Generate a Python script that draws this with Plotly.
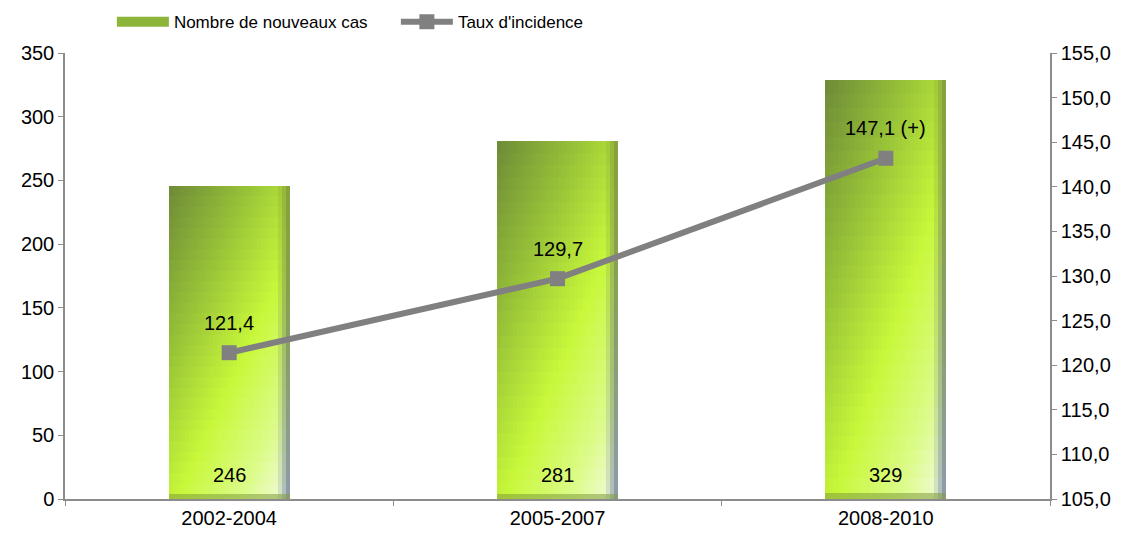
import plotly.graph_objects as go

# ---- data ----
categories = ["2002-2004", "2005-2007", "2008-2010"]
nouveaux_cas = [246, 281, 329]
# point positions as drawn on the right axis (the 3rd point sits near 143.2 although labelled 147,1 (+))
taux_incidence = [121.4, 129.7, 143.2]
taux_labels = ["121,4", "129,7", "147,1 (+)"]
cas_labels = ["246", "281", "329"]

# ---- styling ----
BAR_W = 0.368
NX, NY = 30, 30
FONT = "Liberation Sans, Arial, sans-serif"


def hex2rgb(h):
    h = h.lstrip("#")
    return [int(h[i:i + 2], 16) for i in (0, 2, 4)]


def mix(a, b, t):
    return [a[k] + (b[k] - a[k]) * t for k in range(3)]


STOPS = [(0.0, hex2rgb("#6d8a38")), (0.30, hex2rgb("#98c238")),
         (0.58, hex2rgb("#c8f83a")), (0.82, hex2rgb("#dcfb8a")),
         (1.0, hex2rgb("#f4fbe4"))]


def grad(t):
    t = max(0.0, min(1.0, t))
    for (t0, c0), (t1, c1) in zip(STOPS[:-1], STOPS[1:]):
        if t <= t1:
            return mix(c0, c1, (t - t0) / (t1 - t0))
    return STOPS[-1][1]


def cell_color(u, v):
    # u: 0 left -> 1 right ; v: 0 bottom -> 1 top
    t = (u * 0.9 + (1 - v) * 1.1) / 2.0
    c = grad(t)
    if u > 0.88:  # right rim
        rim = mix(hex2rgb("#86a23a"), hex2rgb("#8c9cae"), (1 - v) ** 1.5)
        c = mix(c, rim, min(1.0, ((u - 0.88) / 0.1) ** 1.3))
    if v < 0.015:  # bottom shadow
        c = mix(c, hex2rgb("#7f9c3a"), 0.55)
    return "rgb(%d,%d,%d)" % tuple(int(round(x)) for x in c)


fig = go.Figure()

# legend carrier for the bars (wide swatch)
fig.add_trace(go.Scatter(x=[None], y=[None], mode="lines", name="Nombre de nouveaux cas",
                         line=dict(color="#8db53a", width=13), yaxis="y", hoverinfo="skip"))

# row fractions (thin bottom shadow strip + regular rows)
row_fracs = [0.0, 0.015] + [0.015 + 0.985 * k / (NY - 1) for k in range(1, NY)]
nrows = len(row_fracs) - 1
for i in range(NX):
    u = (i + 0.5) / NX
    for j in range(nrows):
        f0, f1 = row_fracs[j], row_fracs[j + 1]
        v = (f0 + f1) / 2
        over = 0.004 if j < nrows - 1 else 0.0
        fig.add_trace(go.Bar(
            x=categories,
            y=[val * (f1 - f0 + over) for val in nouveaux_cas],
            base=[val * f0 for val in nouveaux_cas],
            width=BAR_W / NX * 1.06 if i < NX - 1 else BAR_W / NX,
            offset=-BAR_W / 2 + i * BAR_W / NX,
            marker=dict(color=cell_color(u, v), line=dict(width=0)),
            showlegend=False, hoverinfo="skip", yaxis="y"))

fig.add_trace(go.Scatter(
    x=categories, y=taux_incidence, name="Taux d'incidence", yaxis="y2",
    mode="lines+markers",
    line=dict(color="#808080", width=6),
    marker=dict(symbol="square", size=15, color="#808080")))

annotations = []
for c, val, lab in zip(categories, taux_incidence, taux_labels):
    annotations.append(dict(x=c, y=val, xref="x", yref="y2", text=lab, showarrow=False,
                            yshift=30, font=dict(size=20, color="#000000", family=FONT)))
for c, lab in zip(categories, cas_labels):
    annotations.append(dict(x=c, y=0, xref="x", yref="y", text=lab, showarrow=False,
                            yshift=24, font=dict(size=20, color="#000000", family=FONT)))

fig.update_layout(
    width=1117, height=527,
    margin=dict(l=57, r=75, t=45, b=36, autoexpand=False),
    paper_bgcolor="white", plot_bgcolor="white",
    barmode="overlay", bargap=0,
    separators=", ",
    font=dict(family=FONT, size=20, color="#000000"),
    annotations=annotations,
    showlegend=True,
    legend=dict(orientation="h", xref="container", yref="container",
                x=0.093, y=0.973, xanchor="left", yanchor="middle",
                font=dict(size=17, family=FONT), itemwidth=52,
                entrywidth=217, entrywidthmode="pixels",
                bgcolor="rgba(0,0,0,0)", traceorder="normal"),
    xaxis=dict(type="category", range=[-0.5, 2.5], showline=True, linecolor="#8c8c8c",
               linewidth=1.5, ticks="outside", tickson="boundaries", ticklen=5,
               tickcolor="#8c8c8c", showgrid=False, tickfont=dict(size=20), zeroline=False),
    yaxis=dict(range=[0, 350], dtick=50, showline=True, linecolor="#8c8c8c", linewidth=1.5,
               ticks="outside", ticklen=5, tickcolor="#8c8c8c", showgrid=False,
               zeroline=False, tickfont=dict(size=20)),
    yaxis2=dict(range=[105, 155], dtick=5, tickformat=".1f", overlaying="y", side="right",
                showline=True, linecolor="#8c8c8c", linewidth=1.5, ticks="outside",
                ticklen=5, tickcolor="#8c8c8c", showgrid=False, zeroline=False,
                tickfont=dict(size=20)),
)

fig.write_html("out.html")
